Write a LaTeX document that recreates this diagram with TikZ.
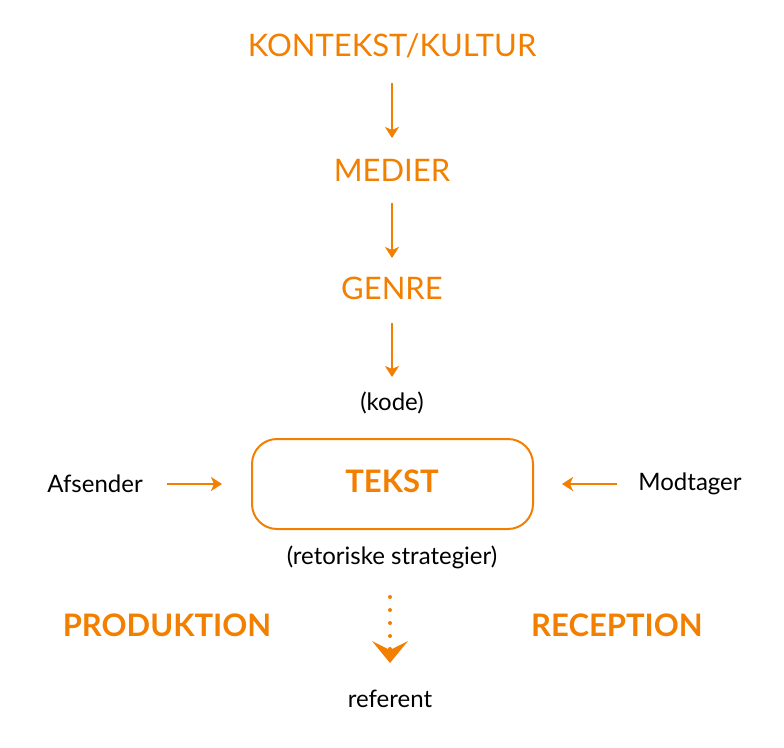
\documentclass[tikz,border=0pt]{standalone}
\usepackage{fontspec}
\setmainfont{Lato}
\usepackage{tikz}
\usetikzlibrary{arrows.meta}
\definecolor{orangeT}{RGB}{242,127,0}
\tikzset{
	level/.style={text=orangeT, font=\fontsize{31}{33}\selectfont},
	side/.style={text=orangeT, font=\fontsize{31}{33}\selectfont\bfseries},
	plain/.style={text=black, font=\fontsize{24}{26}\selectfont},
	flow/.style={draw=orangeT, line width=2pt, -{Stealth[length=11pt,width=14pt,inset=3pt]}}
}

\begin{document}
\begin{tikzpicture}[x=1pt, y=-1pt]
				\useasboundingbox (0,0) rectangle (784,747);
				\node[level] (kontekst) at (392,46) {KONTEKST/KULTUR};
				\node[level] (medier) at (392,170) {MEDIER};
				\node[level] (genre) at (392,288) {GENRE};
				\node[plain] (kode) at (392,403) {(kode)};
				\node[draw=orangeT, line width=2pt, rounded corners=25pt, minimum width=281pt, minimum height=90pt] (tekst) at (392.5,484) {};
				\node[side] (tekstlabel) at (392,481) {TEKST};
				\node[plain] (afsender) at (95,484) {Afsender};
				\node[plain] (modtager) at (690,484) {Modtager};
				\node[plain] (strategier) at (392,557) {(retoriske strategier)};
				\node[side] (produktion) at (167,625) {PRODUKTION};
				\node[side] (reception) at (617,625) {RECEPTION};
				\node[plain] (referent) at (390,699) {referent};
				% pile
				\coordinate (a1) at (392,83); \coordinate (b1) at (392,138);
				\coordinate (a2) at (392,203); \coordinate (b2) at (392,258);
				\coordinate (a3) at (392,323); \coordinate (b3) at (392,377);
				\coordinate (af1) at (167,484); \coordinate (af2) at (222,484);
				\coordinate (mo1) at (617,484); \coordinate (mo2) at (562,484);
				\coordinate (d1) at (390,597); \coordinate (d2) at (390,663);
				\draw[flow] (a1) -- (b1);
				\draw[flow] (a2) -- (b2);
				\draw[flow] (a3) -- (b3);
				\draw[flow] (af1) -- (af2);
				\draw[flow] (mo1) -- (mo2);
				\draw[draw=orangeT, line width=4pt, line cap=round, dash pattern=on 0pt off 13pt, -{Stealth[length=22pt,width=36pt,inset=9pt,line width=0pt,fill=orangeT]}] (d1) -- (d2);
\end{tikzpicture}
\end{document}
